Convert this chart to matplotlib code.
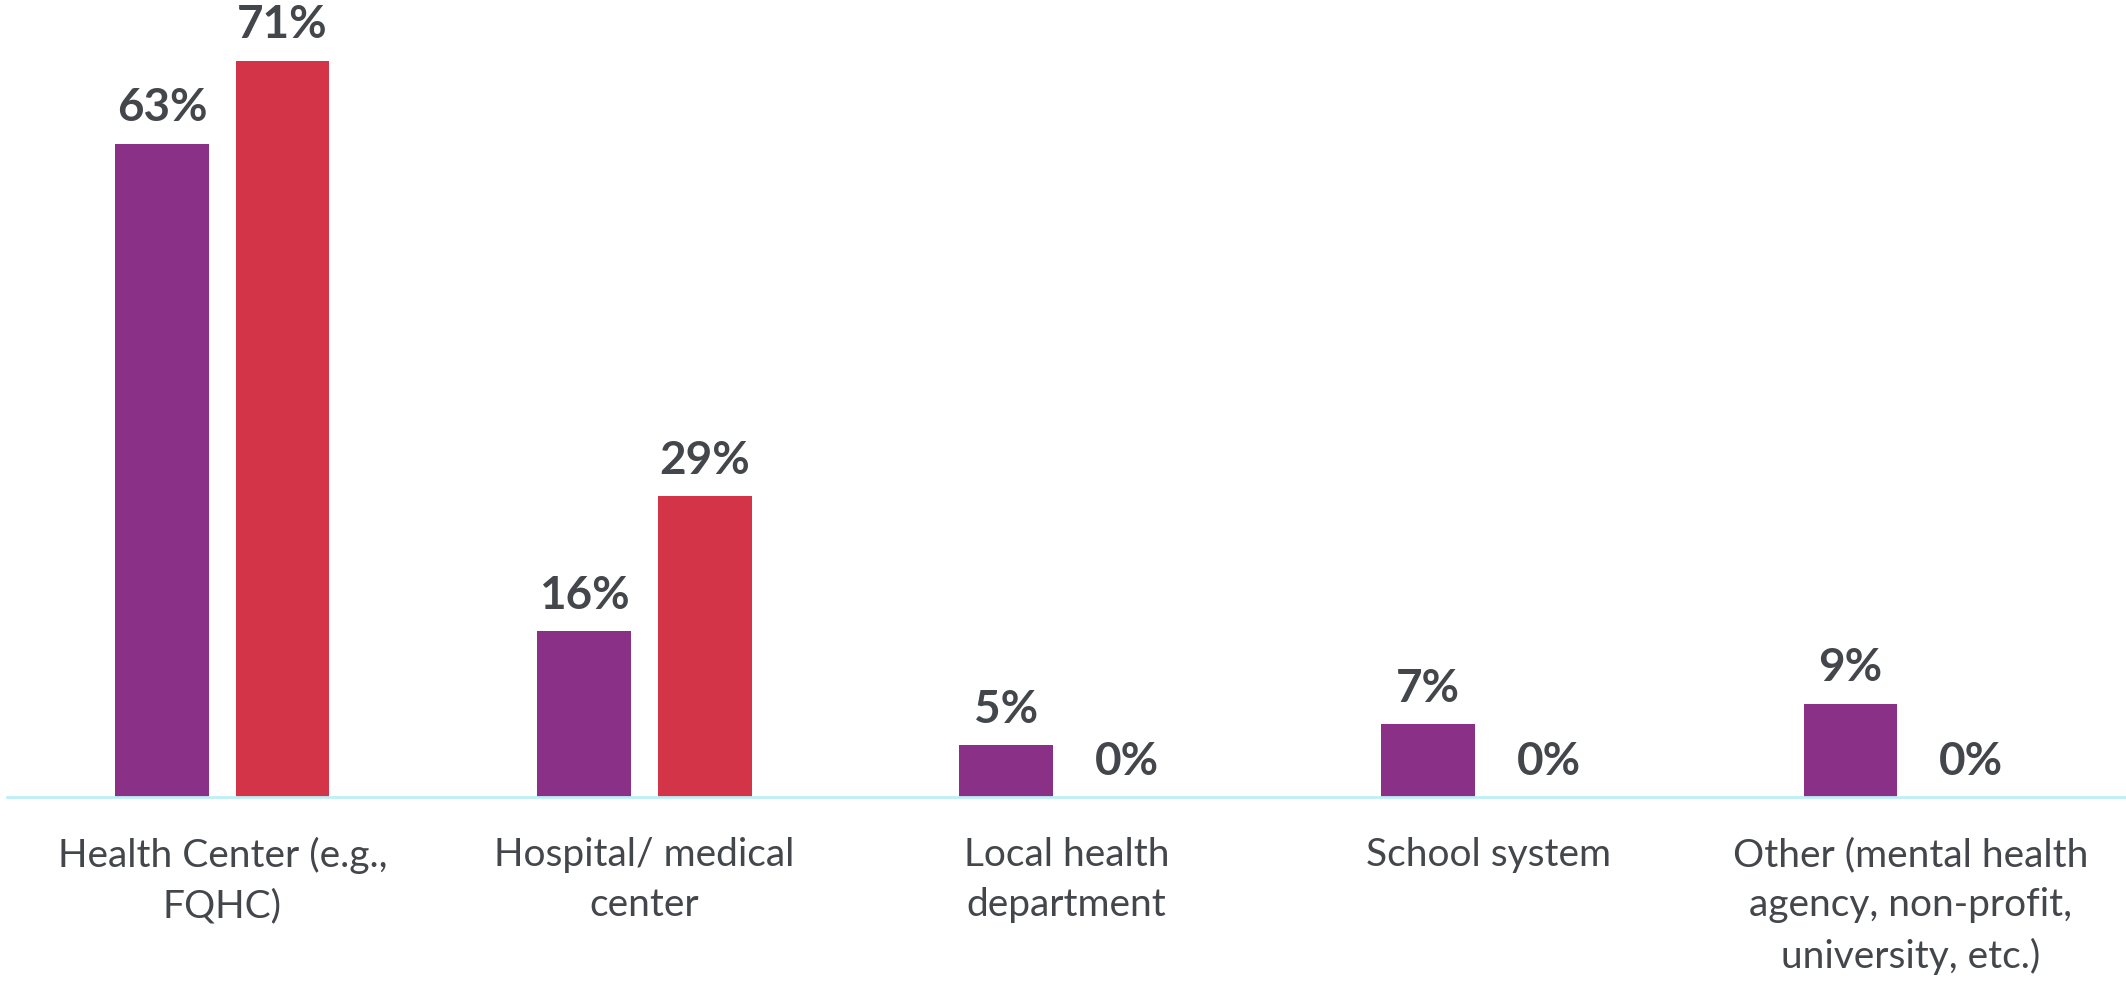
import matplotlib.pyplot as plt
import numpy as np

categories = [
    "Health Center (e.g.,\nFQHC)",
    "Hospital/ medical\ncenter",
    "Local health\ndepartment",
    "School system",
    "Other (mental health\nagency, non-profit,\nuniversity, etc.)",
]
purple_vals = [63, 16, 5, 7, 9]
red_vals = [71, 29, 0, 0, 0]

PURPLE = "#8A3187"
RED = "#D33447"
TEXT = "#43464B"
BASE = "#BDEFF8"

plt.rcParams["font.family"] = ["Lato", "DejaVu Sans"]

fig = plt.figure(figsize=(21.26, 9.81), dpi=100)
ax = fig.add_axes([7 / 2126, 1 - 797 / 981, 1 - 7 / 2126, 797 / 981])

x = np.arange(len(categories))
w = 0.222
off = 0.143
b1 = ax.bar(x - off, purple_vals, w, color=PURPLE)
b2 = ax.bar(x + off, red_vals, w, color=RED)

for bars, vals in ((b1, purple_vals), (b2, red_vals)):
    for rect, v in zip(bars, vals):
        ax.annotate(f"{v}%", (rect.get_x() + rect.get_width() / 2, v),
                    xytext=(0, 16), textcoords="offset points",
                    ha="center", va="baseline", fontsize=33,
                    fontweight="bold", color=TEXT)

ax.set_xlim(-0.51, 4.51)
ax.set_ylim(0, 76.85)
ax.set_xticks(x)
ax.set_xticklabels(categories, fontsize=28, color=TEXT, linespacing=1.48)
ax.tick_params(axis="x", length=0, pad=29)
ax.set_yticks([])
for side in ("left", "right", "top"):
    ax.spines[side].set_visible(False)
ax.spines["bottom"].set_color(BASE)
ax.spines["bottom"].set_linewidth(2)

fig.savefig("out.png", dpi=100)
